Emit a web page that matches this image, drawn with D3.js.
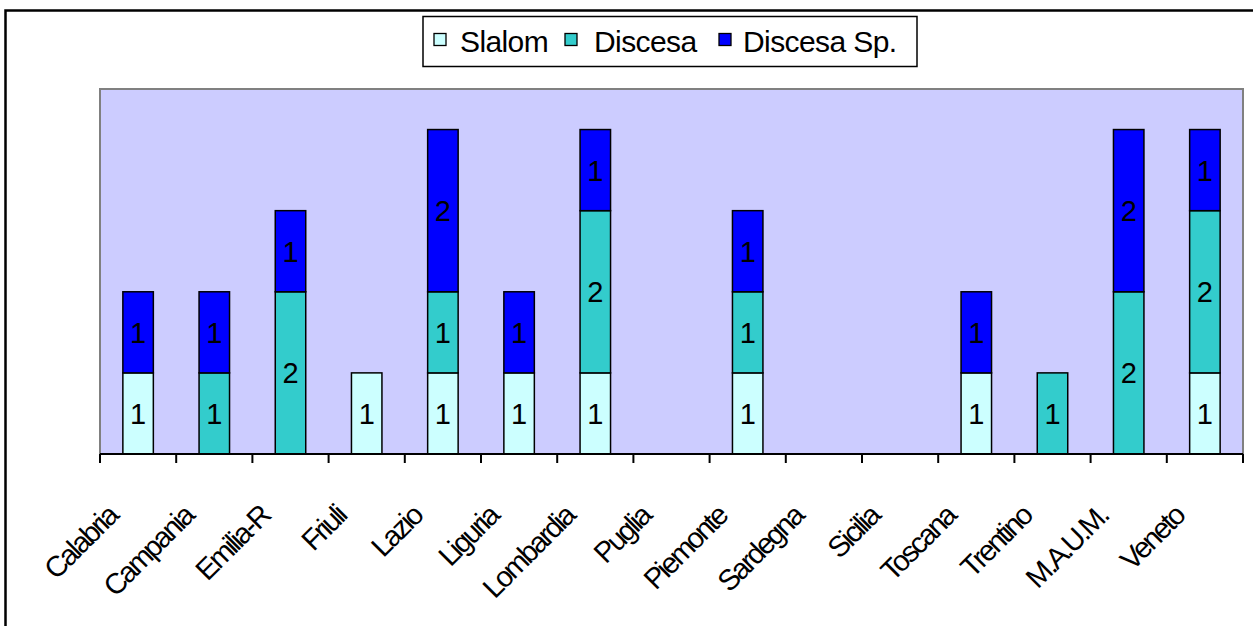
<!DOCTYPE html>
<html>
<head>
<meta charset="utf-8">
<script src="https://cdn.jsdelivr.net/npm/d3@7"></script>
<style>
  html, body { margin: 0; padding: 0; background: #ffffff; }
  svg { display: block; font-family: "Liberation Sans", Arial, sans-serif; }
</style>
</head>
<body>
<svg id="chart" width="1253" height="626"></svg>
<script>
const categories = ["Calabria", "Campania", "Emilia-R", "Friuli", "Lazio", "Liguria", "Lombardia", "Puglia", "Piemonte", "Sardegna", "Sicilia", "Toscana", "Trentino", "M.A.U.M.", "Veneto"];
const slalom    = [1, 0, 0, 1, 1, 1, 1, 0, 1, 0, 0, 1, 0, 0, 1];
const discesa   = [0, 1, 2, 0, 1, 0, 2, 0, 1, 0, 0, 0, 1, 2, 2];
const discesaSp = [1, 1, 1, 0, 2, 1, 1, 0, 1, 0, 0, 1, 0, 2, 1];
const seriesNames = ["Slalom", "Discesa", "Discesa Sp."];
const seriesColors = ["#CCFFFF", "#33CCCC", "#0000FF"];
const yDomain = [0, 4.5];

const svg = d3.select("#chart");

// outer frame
svg.append("rect").attr("x", 5.5).attr("y", 10.5).attr("width", 1270).attr("height", 640)
  .attr("fill", "#fff").attr("stroke", "#000").attr("stroke-width", 2.5);

const plot = { left: 100, right: 1243, top: 89, bottom: 454 };

const x = d3.scaleBand().domain(categories).range([plot.left, plot.right]).paddingInner(0.6).paddingOuter(0.3);
const xOuter = d3.scaleBand().domain(categories).range([plot.left, plot.right]);
const y = d3.scaleLinear().domain(yDomain).range([plot.bottom, plot.top]);

// plot area
svg.append("rect").attr("x", plot.left).attr("y", plot.top)
  .attr("width", plot.right - plot.left).attr("height", plot.bottom - plot.top)
  .attr("fill", "#CCCCFF").attr("stroke", "#808080").attr("stroke-width", 2);

const table = categories.map((c, i) => ({ cat: c, "Slalom": slalom[i], "Discesa": discesa[i], "Discesa Sp.": discesaSp[i] }));
const stack = d3.stack().keys(seriesNames)(table);

stack.forEach((layer, si) => {
  const g = svg.append("g");
  layer.forEach(d => {
    const v = d[1] - d[0];
    if (v <= 0) return;
    g.append("rect")
      .attr("x", x(d.data.cat))
      .attr("y", y(d[1]))
      .attr("width", x.bandwidth())
      .attr("height", y(d[0]) - y(d[1]))
      .attr("fill", seriesColors[si])
      .attr("stroke", "#000").attr("stroke-width", 1.5);
  });
});

stack.forEach((layer, si) => {
  layer.forEach(d => {
    const v = d[1] - d[0];
    if (v <= 0) return;
    svg.append("text")
      .attr("x", x(d.data.cat) + x.bandwidth() / 2)
      .attr("y", (y(d[0]) + y(d[1])) / 2)
      .attr("dy", "0.36em")
      .attr("text-anchor", "middle")
      .attr("font-size", 29)
      .attr("fill", "#000")
      .text(v);
  });
});

// x axis
const axisG = svg.append("g").attr("transform", `translate(0,${plot.bottom})`);
axisG.append("line").attr("x1", plot.left).attr("x2", plot.right).attr("y1", 0).attr("y2", 0)
  .attr("stroke", "#000").attr("stroke-width", 2);
const tickPositions = categories.map(c => xOuter(c)).concat([plot.right]);
axisG.selectAll("line.tick").data(tickPositions).enter().append("line")
  .attr("class", "tick")
  .attr("x1", d => d).attr("x2", d => d).attr("y1", 0).attr("y2", 9)
  .attr("stroke", "#000").attr("stroke-width", 2);

svg.append("g").selectAll("text").data(categories).enter().append("text")
  .attr("transform", d => `translate(${xOuter(d) + xOuter.bandwidth() / 2 - 19},${plot.bottom + 64}) rotate(-45)`)
  .attr("text-anchor", "end")
  .attr("font-size", 29)
  .attr("letter-spacing", -2.4)
  .attr("fill", "#000")
  .text(d => d);

// legend
const legend = svg.append("g");
legend.append("rect").attr("x", 423).attr("y", 16.5).attr("width", 494).attr("height", 50)
  .attr("fill", "#fff").attr("stroke", "#000").attr("stroke-width", 1.5);
const legendItems = [
  { sw: 434, tx: 460 },
  { sw: 565, tx: 594 },
  { sw: 719, tx: 743 }
];
seriesNames.forEach((name, i) => {
  legend.append("rect").attr("x", legendItems[i].sw).attr("y", 33.5).attr("width", 12).attr("height", 12)
    .attr("fill", seriesColors[i]).attr("stroke", "#000").attr("stroke-width", 1.3);
  legend.append("text").attr("x", legendItems[i].tx).attr("y", 52)
    .attr("font-size", 30).attr("letter-spacing", -0.6).attr("fill", "#000").text(name);
});
</script>
</body>
</html>
